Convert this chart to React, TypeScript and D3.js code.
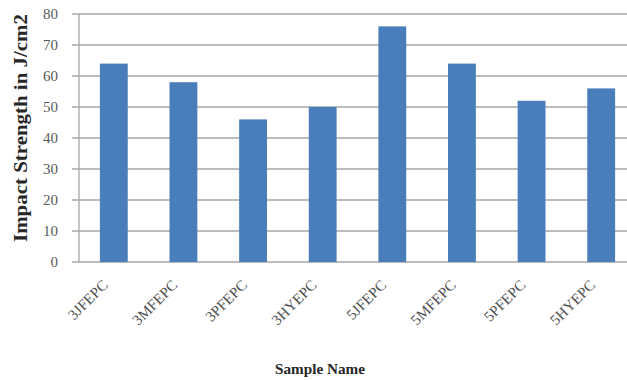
import React from "react";
import * as d3 from "d3";

const categories = ["3JFEPC", "3MFEPC", "3PFEPC", "3HYEPC", "5JFEPC", "5MFEPC", "5PFEPC", "5HYEPC"];
const values = [64, 58, 46, 50, 76, 64, 52, 56];
const yTicks = [0, 10, 20, 30, 40, 50, 60, 70, 80];
const yTitle = "Impact Strength in J/cm2";
const xTitle = "Sample Name";

export default function App() {
  const W = 627, H = 380;
  const left = 79, right = 636, top = 14, bottom = 262;
  const x = d3.scaleBand<string>().domain(categories).range([left, right]).paddingInner(0.6).paddingOuter(0.3);
  const y = d3.scaleLinear().domain([0, 80]).range([bottom, top]);
  const font = "'Liberation Serif', 'Times New Roman', serif";
  return (
    <svg width={W} height={H} style={{ position: "absolute", left: 0, top: 0, background: "#fff" }}>
      {yTicks.map((t) => (
        <g key={t}>
          <line x1={left - 7} x2={W} y1={y(t)} y2={y(t)} stroke="#a6a6a6" strokeWidth={1.3} />
          <text x={58} y={y(t)} dy="0.35em" textAnchor="end" fontFamily={font} fontSize={15} fill="#595959">{t}</text>
        </g>
      ))}
      <line x1={left} x2={left} y1={top} y2={bottom} stroke="#a6a6a6" strokeWidth={1.3} />
      {categories.map((c, i) => (
        <rect key={c} x={x(c)} y={y(values[i])} width={x.bandwidth()} height={bottom - y(values[i])} fill="#4a7ebb" />
      ))}
      {categories.map((c) => {
        const cx = (x(c) as number) + x.bandwidth() / 2 - 5;
        const cy = 286;
        return (
          <text key={c} x={cx} y={cy} textAnchor="end" transform={`rotate(-45 ${cx} ${cy})`} fontFamily={font} fontSize={15} fill="#505050">{c}</text>
        );
      })}
      <text transform={`translate(27 ${(top + bottom) / 2 - 10}) rotate(-90)`} textAnchor="middle" fontFamily={font} fontWeight="bold" fontSize={18} textLength={228} lengthAdjust="spacingAndGlyphs" fill="#262626">{yTitle}</text>
      <text x={320} y={374} textAnchor="middle" fontFamily={font} fontWeight="bold" fontSize={15} textLength={90} lengthAdjust="spacingAndGlyphs" fill="#262626">{xTitle}</text>
    </svg>
  );
}
